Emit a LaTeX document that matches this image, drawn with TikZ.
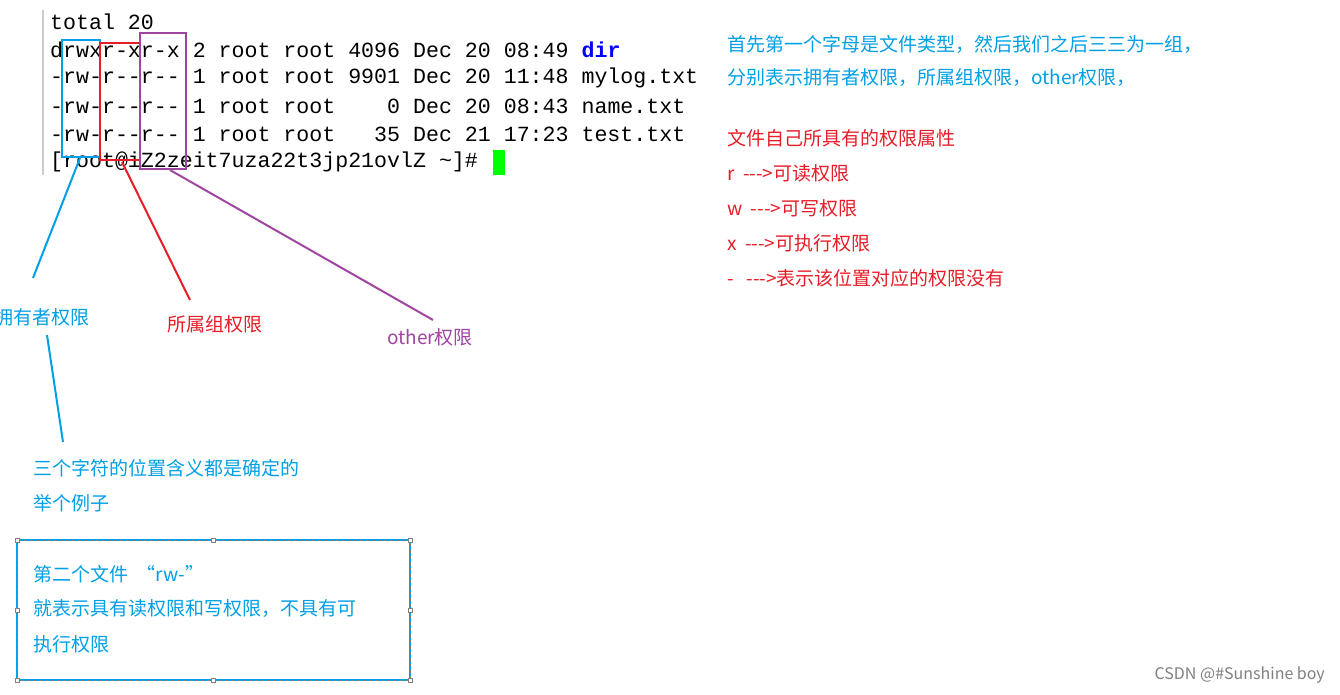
\documentclass[tikz,border=0pt]{standalone}
\usepackage{fontspec}
\setmainfont{Noto Sans CJK SC}
\newfontfamily\term{Liberation Mono}
\begin{document}
\begin{tikzpicture}[x=1pt,y=-1pt,
  tl/.style={anchor=west,inner sep=0pt,font=\term\fontsize{21.6}{22}\selectfont},
  cn/.style={anchor=west,inner sep=0pt,font=\fontsize{19}{19}\selectfont},
  cb/.style={cn,text={rgb,255:red,0;green,160;blue,230}},
  cr/.style={cn,text={rgb,255:red,230;green,30;blue,40}},
  cp/.style={cn,text={rgb,255:red,160;green,70;blue,160}}]
\definecolor{bl}{RGB}{0,160,230}\definecolor{rd}{RGB}{230,30,40}\definecolor{pu}{RGB}{160,70,160}
\useasboundingbox (0,0) rectangle (1340,694);
\fill[white] (0,0) rectangle (1340,694);
\draw[gray!40,line width=1.5pt] (43,10) -- (43,175);
\node[tl] (l0) at (50,22) {total 20};
\node[tl] (l1) at (50,50) {drwxr-xr-x 2 root root 4096 Dec 20 08:49 \textcolor{blue}{\bfseries dir}};
\node[tl] (l2) at (50,78) {-rw-r--r-- 1 root root 9901 Dec 20 11:48 mylog.txt};
\node[tl] (l3) at (50,106) {-rw-r--r-- 1 root root\ \ \ \ 0 Dec 20 08:43 name.txt};
\node[tl] (l4) at (50,134) {-rw-r--r-- 1 root root\ \ \ 35 Dec 21 17:23 test.txt};
\node[tl] (l5) at (50,162) {[root@iZ2zeit7uza22t3jp21ovlZ \textasciitilde]\#};
\fill[green] (493,150) rectangle (505,175);
\draw[bl,line width=2pt] (62,40) rectangle (100,157);
\draw[rd,line width=2pt] (100,43) rectangle (140,160);
\draw[pu,line width=2pt] (140,33) rectangle (186,169);
\node[cb] (a) at (-6,317) {拥有者权限};
\node[cr] (b) at (167,324) {所属组权限};
\node[cp] (c) at (387,337) {other权限};
\draw[bl,line width=2pt] (80,158) -- (33,278);
\draw[rd,line width=2pt] (122,162) -- (190,300);
\draw[pu,line width=2pt] (170,170) -- (433,320);
\draw[bl,line width=2pt] (47,335) -- (63,442);
\node[cb] (d) at (33,468) {三个字符的位置含义都是确定的};
\node[cb] (e) at (33,503) {举个例子};
\draw[bl,line width=1.2pt] (17,540) rectangle (410,680);
\draw[gray,dashed,line width=0.5pt] (17,540) rectangle (410,680);
\foreach \p in {(17,540),(213,540),(410,540),(17,610),(410,610),(17,680),(213,680),(410,680)}
  \draw[gray,fill=white] \p +(-2,-2) rectangle +(2,2);
\node[cb] (f) at (33,574) {第二个文件\ \ “rw-”};
\node[cb] (g) at (33,609) {就表示具有读权限和写权限，不具有可};
\node[cb] (h) at (33,644) {执行权限};
\node[cb] (r1) at (727,44) {首先第一个字母是文件类型，然后我们之后三三为一组，};
\node[cb] (r2) at (727,78) {分别表示拥有者权限，所属组权限，other权限，};
\node[cr] (r3) at (727,138) {文件自己所具有的权限属性};
\node[cr] (r4) at (727,173) {r\ \ -{}-{}->可读权限};
\node[cr] (r5) at (727,208) {w\ \ -{}-{}->可写权限};
\node[cr] (r6) at (727,243) {x\ \ -{}-{}->可执行权限};
\node[cr] (r7) at (727,278) {-\ \ \ -{}-{}->表示该位置对应的权限没有};
\node[anchor=east,inner sep=0pt,text=gray,font=\fontsize{16}{16}\selectfont] (w) at (1325,675) {CSDN @\#Sunshine boy};
\end{tikzpicture}
\end{document}
